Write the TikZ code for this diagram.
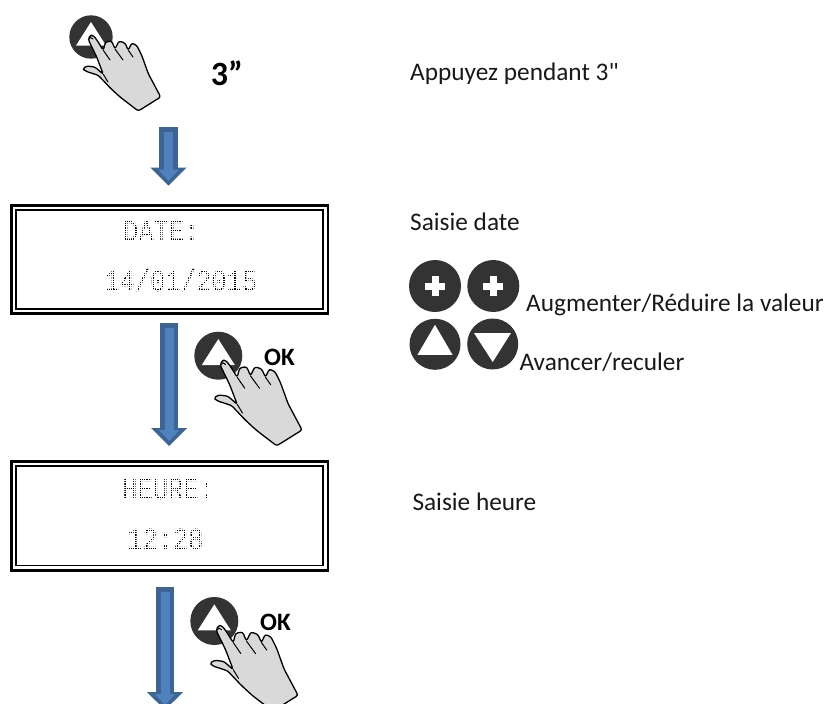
\documentclass[tikz,border=0pt]{standalone}
\usepackage{fontspec}
\setmainfont{Carlito}
\newfontfamily\plainfont{Carlito}
\newfontfamily\lcdfont{Liberation Mono}
\usetikzlibrary{arrows.meta,calc}
\definecolor{btn}{HTML}{333333}
\definecolor{arrowout}{HTML}{3C6494}
\definecolor{arrowin}{HTML}{4F81BD}
\definecolor{handfill}{HTML}{D9D9D9}
\tikzset{
  x=1pt,y=-1pt,
  btncircle/.style={fill=btn,draw=none},
  btnmark/.style={fill=white,draw=none},
  note/.style={anchor=base west,inner sep=0pt,font=\fontsize{25.3}{25.3}\plainfont,text=black!90},
  oklabel/.style={anchor=base west,inner sep=0pt,font=\fontsize{25}{25}\selectfont\bfseries},
  lcd/.style={anchor=base,inner sep=0pt,text=black,font=\fontsize{25.5}{25.5}\lcdfont,yscale=1.2},
  lcdgrid/.style={draw=white,line width=0.6pt},
  arrowshell/.style={line width=18.5pt,draw=arrowout,-{Triangle[width=35pt,length=18pt,fill=arrowout]}},
  arrowcore/.style={line width=9pt,draw=arrowin,-{Triangle[width=20pt,length=11pt,fill=arrowin]}},
  pics/handpress/.style n args={3}{code={
    \fill[btncircle] (0,0) circle[radius=#1];
    \fill[btnmark,scale=#1/21.7] (0,-15) -- (15,8.5) -- (-15,8.5) -- cycle;
    \begin{scope}[shift={#3},scale=#2]
    \filldraw[fill=handfill,draw=black,line width=1.3pt,line join=round,rounded corners=2.2pt]
      (-2.7,2.7) -- (-1,-1.7) -- (2,-1.7) -- (5,1.7) -- (12.3,13.3) -- (14.5,5) -- (20.7,4) -- (24,12)
      -- (28,4) -- (34,6) -- (37.3,13.3) -- (40.7,6) -- (45.7,8.3) -- (50.7,18.3)
      -- (57.3,36.7) -- (69.7,60) -- (47.3,74) -- (29,60) -- (19,50.7) -- (7.3,38.3)
      -- (-6,34) -- (-8.3,31.7) -- (-4.3,29) -- (4,30) -- (12.3,37.3) -- (5.7,20) -- cycle;
    \draw[black,line width=1pt,line cap=round]
      (12.3,13.3) -- (19,23) (24,12) -- (32,23) (37.3,13.3) -- (42,20) (12.3,37.3) -- (17,45)
      (-2.7,2.7) -- (-0.5,0.5) -- (2,2);
    \end{scope}
  }},
  pics/plusbtn/.style={code={
    \fill[btncircle] (0,0) circle[radius=26];
    \fill[btnmark] (-10,-3.5) rectangle (10,3.5);
    \fill[btnmark] (-3.5,-10) rectangle (3.5,10);
  }},
}
\newcommand{\lcdframe}[2]{%
  \draw[black,line width=2.6pt] ($(#1)+(1.3,1.3)$) rectangle ($(#2)+(-1.3,-1.3)$);
  \draw[black,line width=1.8pt] ($(#1)+(6.2,6.2)$) rectangle ($(#2)+(-6.2,-6.2)$);
}
\newcommand{\blockarrow}[2]{%
  \draw[arrowshell] (#1) -- (#2);
  \draw[arrowcore] ($(#1)+(0,5)$) -- ($(#2)+(0,-5)$);
}
\begin{document}
\begin{tikzpicture}
\useasboundingbox (0,0) rectangle (828,704);
\clip (0,0) rectangle (828,704);
\fill[white] (0,0) rectangle (828,704);

% hands with buttons
\pic at (91,37) {handpress={21.7}{1}{(0,0)}};
\pic at (218.3,355.7) {handpress={24}{1.13}{(5,6.5)}};
\pic at (214.3,621) {handpress={24}{1.13}{(5,6.5)}};

% block arrows
\coordinate (a1s) at (168.5,127.3); \coordinate (a1e) at (168.5,185.7);
\coordinate (a2s) at (169.2,323.3); \coordinate (a2e) at (169.2,446);
\coordinate (a3s) at (165,587.3);   \coordinate (a3e) at (165,710);
\blockarrow{a1s}{a1e}
\blockarrow{a2s}{a2e}
\blockarrow{a3s}{a3e}

% displays
\coordinate (d1a) at (10,204);  \coordinate (d1b) at (329.3,315);
\coordinate (d2a) at (10,460);  \coordinate (d2b) at (329.3,571.7);
\lcdframe{d1a}{d1b}
\lcdframe{d2a}{d2b}
\node[lcd] (date) at (161.5,241.7) {DATE:};
\node[lcd] (dateval) at (180.8,291.7) {14/01/2015};
\node[lcd] (heure) at (168.4,499) {HEURE:};
\node[lcd] (time) at (165.5,549) {12:28};
\foreach \ty in {220,270,476,527}{
  \foreach \gy in {0,2.2,...,24}{\draw[lcdgrid] (95,\ty+\gy) -- (265,\ty+\gy);}
}
\foreach \gx in {95,97.2,...,265}{
  \draw[lcdgrid] (\gx,220) -- (\gx,246);
  \draw[lcdgrid] (\gx,270) -- (\gx,296);
  \draw[lcdgrid] (\gx,476) -- (\gx,502);
  \draw[lcdgrid] (\gx,527) -- (\gx,553);
}

% labels
\node[oklabel,font=\fontsize{34}{34}\selectfont\bfseries] (three) at (210.7,85) {3”};
\node[oklabel] (ok1) at (264,365.7) {OK};
\node[oklabel] (ok2) at (260,630) {OK};
\node[note] (n1) at (410,80.7) {Appuyez pendant 3"};
\node[note] (n2) at (410,230) {Saisie date};
\node[note] (n3) at (412.3,510.7) {Saisie heure};
\node[note] (n4) at (526,311.7) {Augmenter/Réduire la valeur};
\node[note] (n5) at (519.3,370.7) {Avancer/reculer};

% legend buttons
\pic at (435,286) {plusbtn};
\pic at (493.3,286) {plusbtn};
\fill[btncircle] (435,344.3) circle[radius=25.5];
\fill[btnmark] (435,324.8) -- (452.5,354.8) -- (417.5,354.8) -- cycle;
\fill[btncircle] (492.7,344) circle[radius=25.5];
\fill[btnmark] (474,333) -- (511,333) -- (492.7,362) -- cycle;
\end{tikzpicture}
\end{document}
